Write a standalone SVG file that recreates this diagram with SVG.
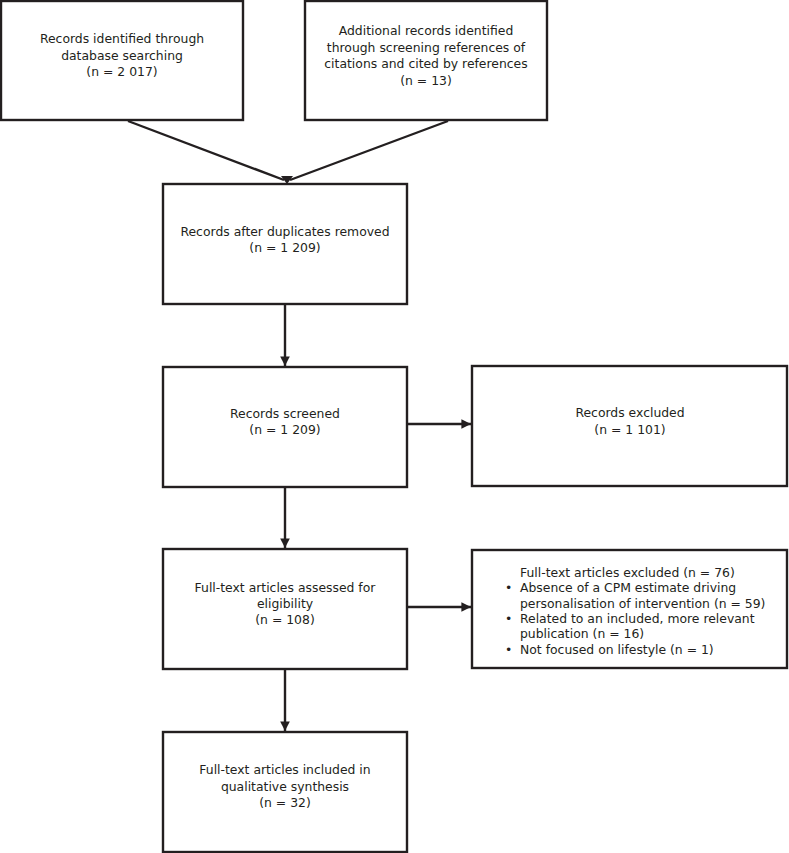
<svg xmlns="http://www.w3.org/2000/svg" width="789" height="853" viewBox="0 0 789 853">
<style>
.box{fill:#fff;stroke:#231f20;stroke-width:2.4}
.t{font-family:"DejaVu Sans","Liberation Sans",sans-serif;font-size:12.4px;fill:#231f20}
.c{text-anchor:middle}
.ln{stroke:#231f20;stroke-width:2.4;fill:none}
</style>
<defs>
<marker id="ah" viewBox="0 0 10 10" refX="10" refY="5" markerWidth="4" markerHeight="4" orient="auto" markerUnits="strokeWidth">
<path d="M0,0 L10,5 L0,10 z" fill="#231f20"/>
</marker>
</defs>
<rect width="789" height="853" fill="#fff"/>
<g id="connectors">
<line class="ln" x1="128" y1="121" x2="284" y2="180"/>
<line class="ln" x1="448" y1="121" x2="290" y2="180"/>
<path d="M281,176 L287,184 L293,176 z" fill="#231f20"/>
<line class="ln" x1="285" y1="305" x2="285" y2="366" marker-end="url(#ah)"/>
<line class="ln" x1="408" y1="424" x2="471" y2="424" marker-end="url(#ah)"/>
<line class="ln" x1="285" y1="488" x2="285" y2="548" marker-end="url(#ah)"/>
<line class="ln" x1="408" y1="607" x2="471" y2="607" marker-end="url(#ah)"/>
<line class="ln" x1="285" y1="670" x2="285" y2="731" marker-end="url(#ah)"/>
</g>
<g id="n1">
<rect class="box" x="1" y="1" width="242" height="119"/>
<text class="t c" x="122" y="43">Records identified through</text>
<text class="t c" x="122" y="59.5">database searching</text>
<text class="t c" x="122" y="76">(n = 2 017)</text>
</g>
<g id="n2">
<rect class="box" x="305" y="1" width="242" height="119"/>
<text class="t c" x="426" y="35">Additional records identified</text>
<text class="t c" x="426" y="51.5">through screening references of</text>
<text class="t c" x="426" y="68">citations and cited by references</text>
<text class="t c" x="426" y="84.5">(n = 13)</text>
</g>
<g id="n3">
<rect class="box" x="163" y="184" width="244" height="120"/>
<text class="t c" x="285" y="235.5">Records after duplicates removed</text>
<text class="t c" x="285" y="252">(n = 1 209)</text>
</g>
<g id="n4">
<rect class="box" x="163" y="367" width="244" height="120"/>
<text class="t c" x="285" y="417.5">Records screened</text>
<text class="t c" x="285" y="434">(n = 1 209)</text>
</g>
<g id="n5">
<rect class="box" x="472" y="366" width="315" height="120"/>
<text class="t c" x="630" y="417">Records excluded</text>
<text class="t c" x="630" y="433.5">(n = 1 101)</text>
</g>
<g id="n6">
<rect class="box" x="163" y="549" width="244" height="120"/>
<text class="t c" x="285" y="591.5">Full-text articles assessed for</text>
<text class="t c" x="285" y="608">eligibility</text>
<text class="t c" x="285" y="624">(n = 108)</text>
</g>
<g id="n7">
<rect class="box" x="472" y="550" width="315" height="118"/>
<text class="t" x="520" y="576.5">Full-text articles excluded (n = 76)</text>
<text class="t" x="505" y="592">•</text>
<text class="t" x="520" y="592">Absence of a CPM estimate driving</text>
<text class="t" x="520" y="607.5">personalisation of intervention (n = 59)</text>
<text class="t" x="505" y="622.5">•</text>
<text class="t" x="520" y="622.5">Related to an included, more relevant</text>
<text class="t" x="520" y="638">publication (n = 16)</text>
<text class="t" x="505" y="653.5">•</text>
<text class="t" x="520" y="653.5">Not focused on lifestyle (n = 1)</text>
</g>
<g id="n8">
<rect class="box" x="163" y="732" width="244" height="120"/>
<text class="t c" x="285" y="774">Full-text articles included in</text>
<text class="t c" x="285" y="790.5">qualitative synthesis</text>
<text class="t c" x="285" y="807">(n = 32)</text>
</g>
</svg>
